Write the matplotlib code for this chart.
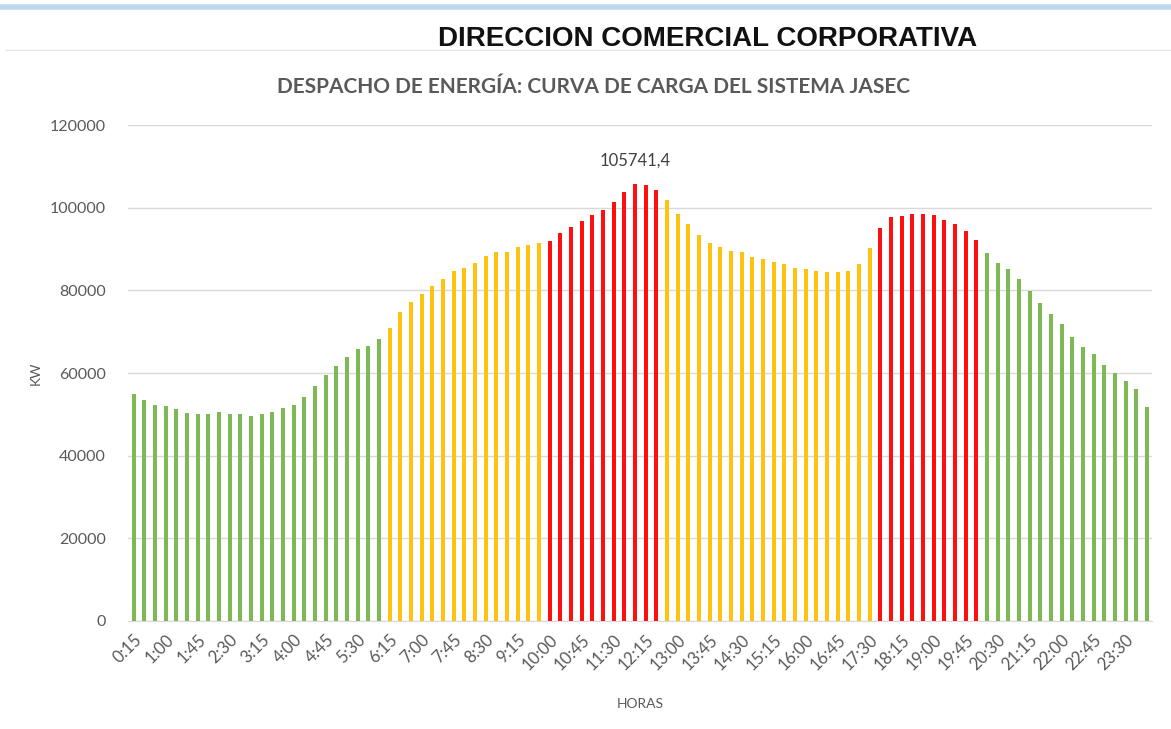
import matplotlib
matplotlib.use("Agg")
import matplotlib.pyplot as plt

# carga del sistema cada 15 minutos (kW)
carga = [
    54800, 53400, 52200, 52100, 51200, 50400, 50100, 50100, 50500, 50000, 50000, 49600,
    50000, 50500, 51500, 52200, 54100, 56800, 59600, 61700, 63800, 65900, 66600, 68200,
    71000, 74800, 77200, 79100, 81000, 82900, 84700, 85500, 86700, 88400, 89300, 89400,
    90600, 90900, 91400, 92100, 93900, 95400, 96800, 98200, 99600, 101500, 103800, 105741.4,
    105600, 104400, 102000, 98600, 96000, 93400, 91400, 90600, 89500, 89300, 88200, 87700,
    86800, 86300, 85500, 85200, 84700, 84400, 84400, 84700, 86500, 90400, 95200, 97700,
    98100, 98600, 98600, 98200, 97000, 96000, 94400, 92300, 89000, 86700, 85200, 82900,
    79900, 77000, 74400, 71800, 68800, 66200, 64500, 61900, 60000, 58100, 56200, 51800,
]
horas = ["%d:%02d" % (((i + 1) * 15) // 60, ((i + 1) * 15) % 60) for i in range(96)]
# franja tarifaria de cada intervalo: V = valle, L = llano, P = punta
franja = ["V"] * 24 + ["L"] * 15 + ["P"] * 11 + ["L"] * 20 + ["P"] * 10 + ["V"] * 16
colores = {"V": "#7DBA55", "L": "#FFC20E", "P": "#FF1010"}

fuente = "Lato"
gris = "#595959"

fig = plt.figure(figsize=(11.71, 7.29), dpi=100)
ax = fig.add_axes([0.1095, 0.1486, 0.8745, 0.6794])

x = list(range(len(carga)))
ax.bar(x, carga, width=0.38, color=[colores[f] for f in franja], zorder=3)

ax.set_xlim(-0.5, 95.5)
ax.set_ylim(0, 120000)
ax.set_yticks(range(0, 120001, 20000))
ax.set_yticklabels([str(v) for v in range(0, 120001, 20000)], fontfamily=fuente,
                   fontsize=11.5, color=gris)
ax.set_xticks(x[::3])
ax.set_xticklabels(horas[::3], rotation=45, ha="right", rotation_mode="anchor",
                   fontfamily=fuente, fontsize=12, color=gris)
ax.tick_params(axis="y", length=0, pad=16)
ax.tick_params(axis="x", length=0, pad=8)
ax.grid(axis="y", color="#D9D9D9", linewidth=1, zorder=0)
for s in ["top", "right", "left"]:
    ax.spines[s].set_visible(False)
ax.spines["bottom"].set_color("#D9D9D9")

pico = carga.index(max(carga))
ax.annotate(("%.1f" % carga[pico]).replace(".", ","), (pico, carga[pico]),
            xytext=(0, 11), textcoords="offset points", ha="center", va="bottom",
            fontfamily=fuente, fontsize=12, color="#404040")

ax.set_ylabel("KW", fontfamily=fuente, fontsize=10, color=gris)
ax.yaxis.set_label_coords(-0.084, 0.5)
ax.set_xlabel("HORAS", fontfamily=fuente, fontsize=10, color=gris, labelpad=18)

fig.text(0.604, 0.946, "DIRECCION COMERCIAL CORPORATIVA", ha="center", va="center",
         fontfamily="Liberation Sans", fontweight="bold", fontsize=20, color="#111111")
fig.text(0.507, 0.881, "DESPACHO DE ENERGÍA: CURVA DE CARGA DEL SISTEMA JASEC",
         ha="center", va="center", fontfamily=fuente, fontweight="bold", fontsize=15,
         color=gris)

# bordes del marco como en la captura
fig.add_artist(plt.Line2D([0, 1], [0.99, 0.99], color="#BDD7EE", linewidth=4))
fig.add_artist(plt.Line2D([0.005, 1], [0.932, 0.932], color="#E7E6E6", linewidth=1))

fig.savefig("out.png", dpi=100)
